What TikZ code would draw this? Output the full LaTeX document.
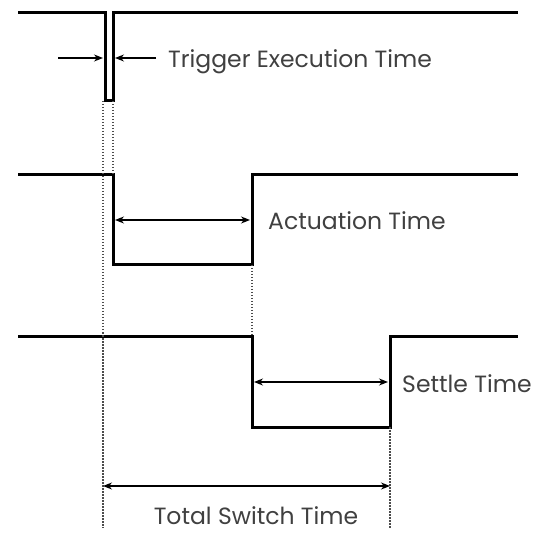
\documentclass[tikz,border=0pt]{standalone}
\usepackage{fontspec}
\setmainfont{Poppins}
\usetikzlibrary{arrows.meta}
\tikzset{
  wave/.style={line width=3pt},
  span/.style={line width=1.3pt,{Stealth[length=9pt,width=7pt]}-{Stealth[length=9pt,width=7pt]}},
  pointer/.style={line width=1.3pt,-{Stealth[length=9pt,width=7pt]}},
  guide/.style={dash pattern=on 1.5pt off 1.5pt,line width=1.2pt,gray!60!black},
  label/.style={font=\fontsize{23.5}{28}\selectfont,text=black!75,inner sep=0pt,text depth=0pt}
}
\begin{document}
\begin{tikzpicture}[x=1pt,y=-1pt]
\useasboundingbox (0,0) rectangle (538,534);
\coordinate (ta) at (105,13);
\coordinate (tb) at (113,13);
\coordinate (aa) at (113,175);
\coordinate (ab) at (252,175);
\coordinate (sa) at (252,337);
\coordinate (sb) at (390,337);
\draw[wave] (18,13) -- (ta) -- ++(0,88) -| (tb) -- (518,13);
\draw[wave] (18,175) -- (aa) -- ++(0,90) -| (ab) -- (518,175);
\draw[wave] (18,337) -- (sa) -- ++(0,90) -| (sb) -- (518,337);
\draw[guide] (103,101) -- (103,528);
\draw[guide] (113,101) -- (aa);
\draw[guide] (252,265) -- (sa);
\draw[guide] (390,427) -- (390,528);
\node[label,anchor=base west] (trig) at (168,68) {Trigger Execution Time};
\node[label,anchor=base west] (act) at (268,230) {Actuation Time};
\node[label,anchor=base west] (set) at (402,392) {Settle Time};
\node[label,anchor=base] (tot) at (256,524) {Total Switch Time};
\draw[pointer] (58,58) -- (103,58);
\draw[pointer] (156,58) -- (115,58);
\draw[span] (115,220) -- (250,220);
\draw[span] (254,382) -- (388,382);
\draw[span] (103,486) -- (390,486);
\end{tikzpicture}
\end{document}
